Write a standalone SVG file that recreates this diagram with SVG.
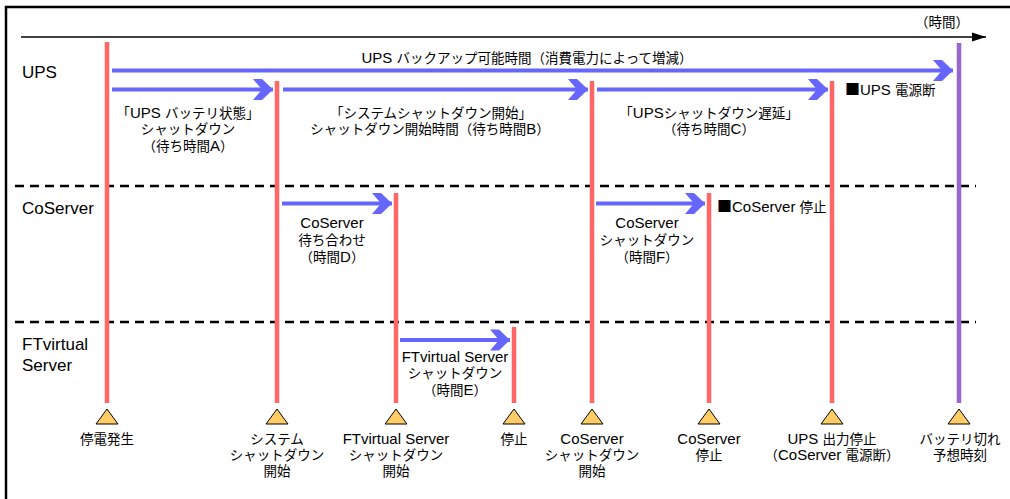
<svg xmlns="http://www.w3.org/2000/svg" width="1010" height="499" viewBox="0 0 1010 499">
<style>
text{font-family:"Liberation Sans","Noto Sans CJK JP",sans-serif;fill:#000;font-size:13.5px}
.l{font-size:15px}
.sq{font-family:"Noto Sans CJK JP",sans-serif;font-size:15px}
.c{text-anchor:middle}
.lane{font-size:17px}
.ev{stroke:#FF6666;stroke-width:4.5}
.ev2{stroke:#9966CC;stroke-width:4.5}
.arr{stroke:#6666FF;stroke-width:4;fill:none;marker-end:url(#ah)}
.dash{stroke:#000;stroke-width:2.5;stroke-dasharray:9 6}
.tri{fill:#FFCC66;stroke:#000;stroke-width:1}
</style>
<defs>
<marker id="ah" markerUnits="userSpaceOnUse" viewBox="0 -11 20 22" refX="20" refY="0" markerWidth="20" markerHeight="22" orient="auto">
<path d="M0,-10.5 L9,-10.5 L20,0 L9,10.5 L0,10.5 L9,0 Z" fill="#6666FF"/>
</marker>
<marker id="ax" markerUnits="userSpaceOnUse" viewBox="0 -5 14 10" refX="14" refY="0" markerWidth="14" markerHeight="10" orient="auto">
<path d="M0,-4.5 L14,0 L0,4.5 Z" fill="#000"/>
</marker>
</defs>
<rect width="1010" height="499" fill="#fff"/>
<g id="frame">
<path d="M6,499 V7 H1010" fill="none" stroke="#000" stroke-width="2.5"/>
</g>
<g id="axis">
<line x1="21" y1="37" x2="986" y2="37" stroke="#000" stroke-width="1.5" marker-end="url(#ax)"/>
<text x="942" y="27" class="c">（時間）</text>
</g>
<g id="lanes">
<line class="dash" x1="15" y1="186" x2="976" y2="186"/>
<line class="dash" x1="15" y1="322" x2="976" y2="322"/>
<text class="lane" x="22" y="78">UPS</text>
<text class="lane" x="22" y="214">CoServer</text>
<text class="lane" x="22" y="350">FTvirtual</text>
<text class="lane" x="22" y="371">Server</text>
</g>
<g id="events">
<line class="ev" x1="107" y1="42" x2="107" y2="403"/>
<line class="ev" x1="277" y1="81" x2="277" y2="403"/>
<line class="ev" x1="396" y1="193" x2="396" y2="403"/>
<line class="ev" x1="514" y1="327" x2="514" y2="403"/>
<line class="ev" x1="592" y1="81" x2="592" y2="403"/>
<line class="ev" x1="709" y1="193" x2="709" y2="403"/>
<line class="ev" x1="832" y1="81" x2="832" y2="403"/>
<line class="ev2" x1="959" y1="43" x2="959" y2="403"/>
</g>
<g id="connectors">
<line class="arr" x1="112" y1="70.5" x2="953" y2="70.5"/>
<line class="arr" x1="112" y1="89.5" x2="273" y2="89.5"/>
<line class="arr" x1="283" y1="89.5" x2="588" y2="89.5"/>
<line class="arr" x1="597" y1="89.5" x2="828" y2="89.5"/>
<line class="arr" x1="282" y1="203.5" x2="392" y2="203.5"/>
<line class="arr" x1="596" y1="203.5" x2="705" y2="203.5"/>
<line class="arr" x1="400" y1="340" x2="510" y2="340"/>
</g>
<g id="labels">
<text class="c" x="527" y="63"><tspan class="l">UPS </tspan>バックアップ可能時間（消費電力によって増減）</text>
<text class="c" x="188" y="118">「<tspan class="l">UPS </tspan>バッテリ状態」</text>
<text class="c" x="188" y="134">シャットダウン</text>
<text class="c" x="188" y="151">（待ち時間<tspan class="l">A</tspan>）</text>
<text class="c" x="431" y="118">「システムシャットダウン開始」</text>
<text class="c" x="430" y="134">シャットダウン開始時間（待ち時間<tspan class="l">B</tspan>）</text>
<text class="c" x="709" y="118">「<tspan class="l">UPS</tspan>シャットダウン遅延」</text>
<text class="c" x="709" y="134">（待ち時間<tspan class="l">C</tspan>）</text>
<text x="845" y="95"><tspan class="sq">■</tspan><tspan class="l">UPS </tspan>電源断</text>
<text class="c" x="332" y="228"><tspan class="l">CoServer</tspan></text>
<text class="c" x="332" y="245">待ち合わせ</text>
<text class="c" x="332" y="262">（時間<tspan class="l">D</tspan>）</text>
<text class="c" x="647" y="228"><tspan class="l">CoServer</tspan></text>
<text class="c" x="647" y="245">シャットダウン</text>
<text class="c" x="647" y="262">（時間<tspan class="l">F</tspan>）</text>
<text x="717" y="212"><tspan class="sq">■</tspan><tspan class="l">CoServer </tspan>停止</text>
<text class="c" x="455" y="362"><tspan class="l">FTvirtual Server</tspan></text>
<text class="c" x="455" y="378">シャットダウン</text>
<text class="c" x="455" y="395">（時間<tspan class="l">E</tspan>）</text>
</g>
<g id="m1"><polygon class="tri" points="96,424 107,409 118,424"/><text class="c" x="107" y="444">停電発生</text></g>
<g id="m2"><polygon class="tri" points="266,424 277,409 288,424"/><text class="c" x="277" y="444">システム</text><text class="c" x="277" y="460">シャットダウン</text><text class="c" x="277" y="476">開始</text></g>
<g id="m3"><polygon class="tri" points="385,424 396,409 407,424"/><text class="c" x="396" y="444"><tspan class="l">FTvirtual Server</tspan></text><text class="c" x="396" y="460">シャットダウン</text><text class="c" x="396" y="476">開始</text></g>
<g id="m4"><polygon class="tri" points="503,424 514,409 525,424"/><text class="c" x="514" y="444">停止</text></g>
<g id="m5"><polygon class="tri" points="581,424 592,409 603,424"/><text class="c" x="592" y="444"><tspan class="l">CoServer</tspan></text><text class="c" x="592" y="460">シャットダウン</text><text class="c" x="592" y="476">開始</text></g>
<g id="m6"><polygon class="tri" points="698,424 709,409 720,424"/><text class="c" x="709" y="444"><tspan class="l">CoServer</tspan></text><text class="c" x="709" y="460">停止</text></g>
<g id="m7"><polygon class="tri" points="821,424 832,409 843,424"/><text class="c" x="832" y="444"><tspan class="l">UPS </tspan>出力停止</text><text class="c" x="832" y="460">（<tspan class="l">CoServer </tspan>電源断）</text></g>
<g id="m8"><polygon class="tri" points="948,424 959,409 970,424"/><text class="c" x="960" y="444">バッテリ切れ</text><text class="c" x="960" y="460">予想時刻</text></g>
</svg>
